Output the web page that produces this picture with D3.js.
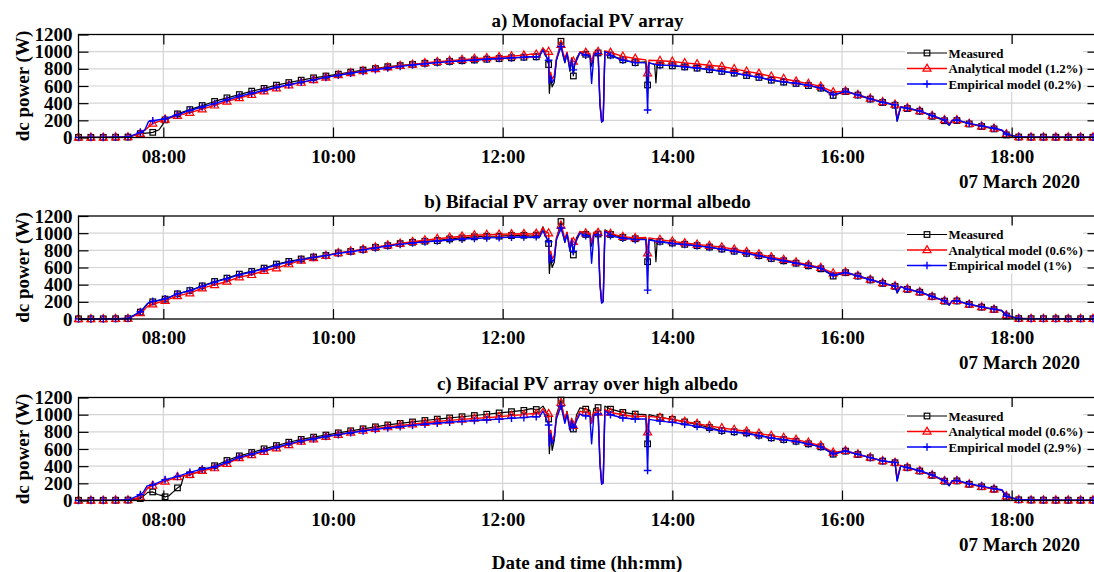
<!DOCTYPE html>
<html><head><meta charset="utf-8">
<script src="https://cdn.jsdelivr.net/npm/d3@7"></script>
<style>
body{margin:0;background:#fff}
svg{display:block}
text{font-family:"Liberation Serif","Times New Roman",serif;font-weight:bold;fill:#000}
</style>
</head><body>
<svg id="c" width="1094" height="572"></svg>
<script>
// ---------- DATA ----------
// time axis in minutes after midnight; values sampled every 8.75 min (marker positions)
const gridStart = 420, gridStep = 8.75;
const xTickValues = [480, 600, 720, 840, 960, 1080];
const xTickLabels = ["08:00", "10:00", "12:00", "14:00", "16:00", "18:00"];
const yTicks = [0, 200, 400, 600, 800, 1000, 1200];
const panelTitles = ["a) Monofacial PV array", "b) Bifacial PV array over normal albedo", "c) Bifacial PV array over high albedo"];
const dateLabel = "07 March 2020";
const legendLabels = [
  ["Measured", "Analytical model (1.2%)", "Empirical model (0.2%)"],
  ["Measured", "Analytical model (0.6%)", "Empirical model (1%)"],
  ["Measured", "Analytical model (0.6%)", "Empirical model (2.9%)"]
];

// Panel a
const measuredA = [2,2,2,3,5, 45,60,205,
  275,325,372,420,462,500,540,572,610,640,668,695,716,
  738,762,785,803,825,838,852,865,876,886,895,903,912,920,928,935,940,
  850,1121,717,970,985,960,905,872,612,845,
  835,822,808,790,770,750,722,700,668,645,630,605,575,
  490,535,494,447,408,376,337,306,247,195,198,158,128,100,30,
  5,4,4,3,3,3,3];
const analyticalA = [2,2,2,3,5, 45,165,210,
  255,290,330,375,420,460,500,540,575,610,640,670,700,
  728,752,775,798,818,836,852,868,882,895,907,918,928,938,948,958,968,
  1000,1082,886,990,1000,990,945,920,750,895,
  886,870,856,842,827,800,770,745,712,685,655,628,595,
  530,540,500,455,415,385,345,310,255,205,205,162,132,105,40,
  5,4,4,3,3,3,3];
const empiricalA = [2,2,2,3,5, 60,195,218,
  265,315,355,395,440,480,515,550,585,615,645,672,700,
  725,748,770,790,810,828,845,860,872,884,894,903,912,920,928,935,940,
  900,1060,788,960,980,955,900,872,320,840,
  840,825,810,792,772,752,725,702,670,648,632,608,578,
  500,538,497,450,410,380,342,310,255,205,205,165,135,108,40,
  5,4,4,3,3,3,3];
const measuredAExtra = [[466,48],[470,55],[477,90],[479.5,150],
  [740,942],[746,945],[748.5,1040],[750,1000],[753,515],[754,700],[755,590],[756.5,640],[758,900],
  [762.5,965],[764,870],[765.5,990],[767.6,770],[768.8,900],[771,850],[772.3,925],[774.7,995],[777,970],
  [781.7,950],[782.9,830],[784.5,965],[788.8,400],[790,180],[791.1,200],[792.3,1004],[794.5,990],
  [821.3,880],[823.5,870],[827.5,850],[828.4,635],[829.3,848],
  [999,188],[1001.5,350],[1035.8,141],[1038,195],[1073,82]];
const analyticalAExtra = [[468,100],
  [740,972],[746,975],[748.5,1045],[750,1010],[753,640],[754,760],[755,680],[756.5,720],[758,920],
  [762.5,1000],[764,920],[765.5,995],[767.6,830],[768.8,930],[771,880],[772.3,900],[774.7,1000],[777,990],
  [781.7,975],[782.9,880],[784.5,990],[788.8,420],[790,190],[791.1,210],[792.3,1010],[794.5,1000],
  [821.3,905],[823.5,900],
  [999,230],[1001.5,360],[1035.8,160],[1038,205],[1073,88]];
const empiricalAExtra = [[467,90],[469.5,185],
  [740,940],[746,945],[748.5,1020],[750,960],[753,630],[754,720],[755,640],[756.5,680],[758,900],
  [762.5,975],[764,880],[765.5,975],[767.6,790],[768.8,910],[771,860],[772.3,900],[774.7,990],[777,965],
  [781.7,950],[782.9,630],[784.5,960],[788.8,380],[790,180],[791.1,195],[792.3,1000],[794.5,985],
  [821.3,870],[823.5,870],
  [999,195],[1001.5,355],[1035.8,145],[1038,200],[1073,88]];

// Panel b
const measuredB = [2,2,2,3,5, 80,200,232,
  293,331,386,437,476,523,554,593,640,671,699,722,741,
  769,787,808,835,855,878,894,906,914,933,945,957,964,965,972,975,978,
  880,1136,746,985,990,985,950,935,667,905,
  885,870,855,838,815,790,765,738,705,678,650,620,585,
  500,540,500,455,415,380,345,312,260,208,210,170,138,110,35,
  5,4,4,3,3,3,3];
const analyticalB = [2,2,2,3,5, 70,172,214,
  269,301,359,398,437,488,515,562,593,640,683,711,738,
  769,790,812,838,860,880,900,918,935,950,964,976,982,986,990,993,996,
  1000,1090,900,1000,1005,995,960,945,766,925,
  905,885,870,855,838,812,783,755,722,692,662,632,598,
  535,545,505,460,420,385,350,315,262,212,212,170,140,112,45,
  5,4,4,3,3,3,3];
const empiricalB = [2,2,2,3,5, 85,205,235,
  293,331,380,430,470,515,548,585,630,662,692,718,738,
  765,784,805,828,850,870,885,898,908,920,930,938,945,948,952,955,958,
  900,1060,790,970,980,970,940,925,336,900,
  880,868,852,835,812,790,763,737,705,678,650,622,590,
  510,542,502,457,418,383,348,315,262,212,212,172,142,115,45,
  5,4,4,3,3,3,3];
const measuredBExtra = [[466,120],[469,180],
  [740,965],[746,968],[748.5,1075],[750,1000],[753,530],[754,720],[755,600],[756.5,660],[758,930],
  [762.5,1000],[764,890],[765.5,1010],[767.6,790],[768.8,920],[771,870],[772.3,950],[774.7,1020],[777,1000],
  [781.7,990],[782.9,850],[784.5,1000],[788.8,420],[790,190],[791.1,205],[792.3,1040],[794.5,1020],
  [821.3,935],[823.5,930],[827.5,915],[828.4,667],[829.3,912],
  [999,300],[1001.5,375],[1035.8,160],[1038,210],[1073,95]];
const analyticalBExtra = [[466,100],[469,150],
  [740,990],[746,992],[748.5,1065],[750,1020],[753,660],[754,790],[755,700],[756.5,740],[758,950],
  [762.5,1030],[764,930],[765.5,1010],[767.6,840],[768.8,940],[771,890],[772.3,920],[774.7,1020],[777,1010],
  [781.7,1000],[782.9,890],[784.5,1010],[788.8,430],[790,200],[791.1,215],[792.3,1030],[794.5,1015],
  [821.3,950],[823.5,945],
  [999,320],[1001.5,380],[1035.8,170],[1038,215],[1073,100]];
const empiricalBExtra = [[466,125],[469,185],
  [740,950],[746,952],[748.5,1030],[750,970],[753,650],[754,750],[755,660],[756.5,700],[758,920],
  [762.5,990],[764,900],[765.5,985],[767.6,800],[768.8,920],[771,870],[772.3,920],[774.7,1000],[777,980],
  [781.7,970],[782.9,650],[784.5,980],[788.8,400],[790,185],[791.1,200],[792.3,1020],[794.5,1000],
  [821.3,925],[823.5,920],
  [999,310],[1001.5,378],[1035.8,165],[1038,212],[1073,100]];

// Panel c
const measuredC = [2,2,2,3,5, 23,100,43,
  147,300,350,405,466,520,559,602,640,679,712,738,762,
  788,812,835,858,880,898,915,932,948,962,976,990,1005,1020,1035,1050,1060,
  950,1170,833,1064,1083,1064,1026,1007,660,970,
  945,915,885,850,815,800,787,760,730,710,690,660,625,
  540,575,536,498,459,440,382,343,293,225,228,189,160,131,40,
  8,5,4,3,3,3,3];
const analyticalC = [2,2,2,3,5, 40,174,223,
  274,300,347,378,430,495,530,570,610,648,688,715,742,
  768,792,815,836,856,874,890,905,920,933,945,956,966,976,990,1000,1010,
  1010,1140,872,1026,1026,1026,999,976,795,965,
  945,920,895,870,845,826,806,782,756,733,710,677,640,
  560,580,540,502,462,442,385,346,297,230,230,190,162,133,50,
  8,5,4,3,3,3,3];
const empiricalC = [2,2,2,3,5, 69,182,243,
  281,328,367,390,445,505,540,580,620,660,695,720,745,
  768,790,810,828,845,860,875,888,900,912,922,932,940,948,958,966,975,
  880,1100,853,988,1007,999,961,949,350,925,
  910,888,862,835,808,795,780,755,728,708,688,658,625,
  545,577,538,500,462,442,385,347,298,232,234,195,168,138,50,
  8,5,4,3,3,3,3];
const measuredCExtra = [[466.5,60],[469,95],[476,70],[478.5,60],[484,55],[487,100],[492.5,175],[494.5,288],
  [740,1070],[746,1065],[748.5,1100],[750,1060],[753,545],[754,800],[755,585],[756.5,700],[758,1000],
  [762.5,1050],[764,920],[765.5,1040],[767.6,830],[768.8,950],[771,880],[772.3,1000],[774.7,1080],[777,1070],
  [781.7,1050],[782.9,900],[784.5,1070],[788.8,450],[790,195],[791.1,210],[792.3,1100],[794.5,1080],
  [821.3,1000],[823.5,1000],
  [999,228],[1001.5,400],[1035.8,170],[1038,228],[1073,120]];
const analyticalCExtra = [[466,70],[469,150],
  [740,1012],[746,1015],[748.5,1070],[750,1030],[753,650],[754,820],[755,700],[756.5,760],[758,980],
  [762.5,1050],[764,950],[765.5,1030],[767.6,870],[768.8,960],[771,900],[772.3,960],[774.7,1040],[777,1030],
  [781.7,1020],[782.9,900],[784.5,1030],[788.8,460],[790,205],[791.1,220],[792.3,1060],[794.5,1040],
  [821.3,985],[823.5,980],
  [999,260],[1001.5,410],[1035.8,185],[1038,230],[1073,125]];
const empiricalCExtra = [[466,100],[468.5,170],
  [740,975],[746,978],[748.5,1040],[750,990],[753,630],[754,780],[755,660],[756.5,720],[758,950],
  [762.5,1010],[764,900],[765.5,1000],[767.6,820],[768.8,930],[771,870],[772.3,930],[774.7,1010],[777,990],
  [781.7,980],[782.9,660],[784.5,990],[788.8,420],[790,190],[791.1,205],[792.3,1045],[794.5,1020],
  [821.3,950],[823.5,945],
  [999,228],[1001.5,400],[1035.8,175],[1038,230],[1073,125]];

// ---------- CHART ----------
const panelData = [
  [[measuredA, measuredAExtra], [analyticalA, analyticalAExtra], [empiricalA, empiricalAExtra]],
  [[measuredB, measuredBExtra], [analyticalB, analyticalBExtra], [empiricalB, empiricalBExtra]],
  [[measuredC, measuredCExtra], [analyticalC, analyticalCExtra], [empiricalC, empiricalCExtra]]
];
const styles = [
  {color: "#000000", marker: "square", width: 1.2},
  {color: "#ff0000", marker: "triangle", width: 1.4},
  {color: "#0000ff", marker: "plus", width: 1.4}
];
const panelTops = [34.5, 216, 397.5];
const panelH = 103;
const FS = 19;

const svg = d3.select("#c");
const x = d3.scaleLinear().domain([420, 1140]).range([78.5, 1096.5]);

function buildSeries(grid, extra) {
  const pts = grid.map((v, i) => ({t: gridStart + i * gridStep, v: v, m: true}));
  extra.forEach(p => pts.push({t: p[0], v: p[1], m: false}));
  pts.sort((a, b) => a.t - b.t);
  return pts;
}

function drawMarker(sel, type, color) {
  if (type === "square") {
    sel.append("rect").attr("x", -2.8).attr("y", -2.8).attr("width", 5.6).attr("height", 5.6)
      .attr("fill", "none").attr("stroke", color).attr("stroke-width", 1.2);
  } else if (type === "triangle") {
    sel.append("path").attr("d", "M0,-4.4L4,2.7L-4,2.7Z")
      .attr("fill", "none").attr("stroke", color).attr("stroke-width", 1.2);
  } else {
    sel.append("path").attr("d", "M-3.8,0H3.8M0,-3.8V3.8")
      .attr("fill", "none").attr("stroke", color).attr("stroke-width", 1.4);
  }
}

panelTops.forEach((top, pi) => {
  const bottom = top + panelH;
  const y = d3.scaleLinear().domain([0, 1200]).range([bottom, top]);
  const g = svg.append("g");

  // grid
  g.append("g").selectAll("line").data(yTicks.slice(1, -1)).join("line")
    .attr("x1", x.range()[0]).attr("x2", x.range()[1])
    .attr("y1", d => y(d)).attr("y2", d => y(d))
    .attr("stroke", "#d4d4d4").attr("stroke-width", 1.2);
  g.append("g").selectAll("line").data(xTickValues).join("line")
    .attr("x1", d => x(d)).attr("x2", d => x(d))
    .attr("y1", top).attr("y2", bottom)
    .attr("stroke", "#d4d4d4").attr("stroke-width", 1.2);

  // series
  const line = d3.line().x(d => x(d.t)).y(d => y(d.v));
  panelData[pi].forEach((s, si) => {
    const pts = buildSeries(s[0], s[1]);
    const st = styles[si];
    g.append("path").datum(pts).attr("d", line)
      .attr("fill", "none").attr("stroke", st.color).attr("stroke-width", st.width)
      .attr("stroke-linejoin", "round");
    const mk = g.append("g").selectAll("g").data(pts.filter(d => d.m)).join("g")
      .attr("transform", d => `translate(${x(d.t)},${y(d.v)})`);
    mk.each(function() { drawMarker(d3.select(this), st.marker, st.color); });
  });

  // axes with inward ticks
  const axL = g.append("g").attr("transform", `translate(${x.range()[0]},0)`)
    .call(d3.axisLeft(y).tickValues(yTicks).tickFormat(d3.format("d"))
      .tickSizeInner(-10).tickSizeOuter(0).tickPadding(6));
  const axR = g.append("g").attr("transform", `translate(${x.range()[1]},0)`)
    .call(d3.axisRight(y).tickValues(yTicks.slice(1, -1)).tickSizeInner(-9).tickSizeOuter(0).tickFormat(""));
  const axB = g.append("g").attr("transform", `translate(0,${bottom})`)
    .call(d3.axisBottom(x).tickValues(xTickValues).tickFormat((d, i) => xTickLabels[i])
      .tickSizeInner(-10).tickSizeOuter(0).tickPadding(12));
  const axT = g.append("g").attr("transform", `translate(0,${top})`)
    .call(d3.axisTop(x).tickValues(xTickValues).tickSizeInner(-10).tickSizeOuter(0).tickFormat(""));
  [axL, axR, axB, axT].forEach(a => {
    a.select(".domain").remove();
    a.selectAll(".tick line").attr("stroke", "#000").attr("stroke-width", 1.2);
    a.selectAll("text").attr("font-size", FS).attr("font-family", null).attr("fill", "#000");
  });

  // frame
  g.append("rect").attr("x", x.range()[0]).attr("y", top)
    .attr("width", x.range()[1] - x.range()[0]).attr("height", panelH)
    .attr("fill", "none").attr("stroke", "#000").attr("stroke-width", 1.3);

  // legend
  const lg = g.append("g");
  lg.append("rect").attr("x", 905).attr("y", top + 9.5).attr("width", 178).attr("height", 48)
    .attr("fill", "#fff");
  legendLabels[pi].forEach((lab, li) => {
    const ly = top + 18.5 + li * 15.5;
    lg.append("line").attr("x1", 907).attr("x2", 947).attr("y1", ly).attr("y2", ly)
      .attr("stroke", styles[li].color).attr("stroke-width", styles[li].width);
    const m = lg.append("g").attr("transform", `translate(927,${ly})`);
    drawMarker(m, styles[li].marker, styles[li].color);
    lg.append("text").attr("x", 948.5).attr("y", ly + 4.6).attr("font-size", 12.9).text(lab);
  });

  // title
  g.append("text").attr("x", 587.5).attr("y", top - 8).attr("text-anchor", "middle")
    .attr("font-size", FS).text(panelTitles[pi]);
  // date
  g.append("text").attr("x", 1080).attr("y", bottom + 50).attr("text-anchor", "end")
    .attr("font-size", FS).text(dateLabel);
  // y label
  g.append("text").attr("transform", `translate(28.5,${top + panelH / 2}) rotate(-90)`)
    .attr("text-anchor", "middle").attr("font-size", FS).text("dc power (W)");
});

svg.append("text").attr("x", 587).attr("y", 569).attr("text-anchor", "middle")
  .attr("font-size", FS).text("Date and time (hh:mm)");
</script>
</body></html>
